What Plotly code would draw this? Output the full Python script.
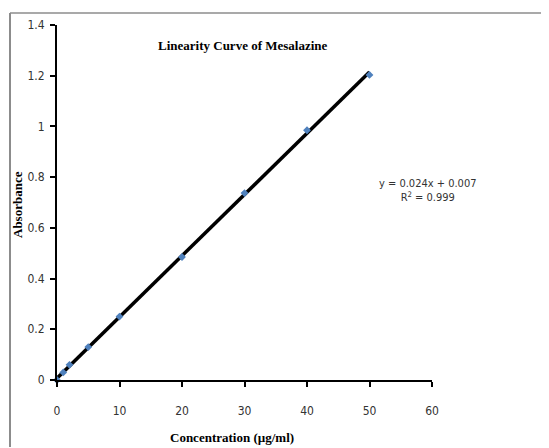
import numpy as np
import plotly.graph_objects as go

conc = [0, 1, 2, 5, 10, 20, 30, 40, 50]
absorb = [0.0, 0.03, 0.06, 0.13, 0.25, 0.485, 0.737, 0.985, 1.203]
x_ticks = [0, 10, 20, 30, 40, 50, 60]
y_ticks = [0, 0.2, 0.4, 0.6, 0.8, 1, 1.2, 1.4]
y_tick_text = ["0", "0.2", "0.4", "0.6", "0.8", "1", "1.2", "1.4"]

slope, intercept = np.polyfit(conc, absorb, 1)
fit_x = [min(conc), max(conc)]
fit_y = [slope * v + intercept for v in fit_x]

# page has an 8px body margin; size the figure so the plot area lands where the reference has it
OFF = 8
W, H = 549 - OFF, 448 - OFF
PL, PR, PT, PB = 57, 432, 25, 380  # plot area in page pixels
L, T = PL - OFF, PT - OFF
R, B = W - (PR - OFF), H - (PB - OFF)
pw, ph = PR - PL, PB - PT

def px(xp):
    return (xp - PL) / pw

def py(yp):
    return (PB - yp) / ph

fig = go.Figure()
fig.add_trace(go.Scatter(x=fit_x, y=fit_y, mode="lines",
                         line=dict(color="black", width=3.5), hoverinfo="skip",
                         cliponaxis=False, showlegend=False))
fig.add_trace(go.Scatter(x=conc, y=absorb, mode="markers",
                         marker=dict(symbol="diamond", size=6, color="#4F81BD"),
                         cliponaxis=False, showlegend=False))

narrow = "Liberation Sans Narrow, DejaVu Sans Condensed, Roboto Condensed, Liberation Sans, Arial"
tick_font = dict(family=narrow, size=12, color="#333333")
serif = "Liberation Serif, Times New Roman, serif"

fig.update_xaxes(range=[0, 60], tickvals=x_ticks, showgrid=False, zeroline=False,
                 showline=True, linecolor="black", linewidth=2,
                 ticks="outside", ticklen=5, tickwidth=2, tickcolor="black",
                 tickfont=tick_font, ticklabelstandoff=14, automargin=False)
fig.update_yaxes(range=[0, 1.4], tickvals=y_ticks, ticktext=y_tick_text, showgrid=False,
                 zeroline=False, showline=True, linecolor="black", linewidth=2,
                 ticks="outside", ticklen=5, tickwidth=2, tickcolor="black",
                 tickfont=tick_font, ticklabelstandoff=3, automargin=False)

def note(x, y, text, font, **kw):
    fig.add_annotation(x=px(x), y=py(y), xref="paper", yref="paper", showarrow=False,
                       xanchor="center", yanchor="middle", text=text, font=font, **kw)

note(243, 45, "<b>Linearity Curve of Mesalazine</b>", dict(family=serif, size=13, color="black"))
note(232, 437, "<b>Concentration (µg/ml)</b>", dict(family=serif, size=13, color="black"))
note(17, 205, "<b>Absorbance</b>", dict(family=serif, size=13, color="black"), textangle=-90)
note(428, 190, "y = 0.024x + 0.007<br>R<sup>2</sup> = 0.999", dict(family=narrow, size=11, color="#333333"),
     align="center")

# frame around the chart (left and top edges are visible in the reference)
fig.add_shape(type="line", xref="paper", yref="paper", x0=px(10), x1=px(10), y0=py(13), y1=py(447),
              line=dict(color="#8c8c8c", width=2))
fig.add_shape(type="line", xref="paper", yref="paper", x0=px(10), x1=px(548), y0=py(13), y1=py(13),
              line=dict(color="#8c8c8c", width=1.5))

fig.update_layout(width=W, height=H, margin=dict(l=L, r=R, t=T, b=B, autoexpand=False),
                  plot_bgcolor="white", paper_bgcolor="white", showlegend=False)
fig.write_html("out.html")
